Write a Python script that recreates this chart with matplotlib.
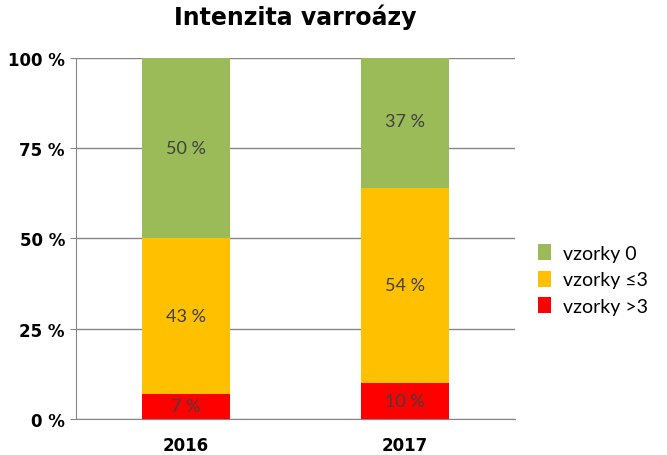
import matplotlib.pyplot as plt
import numpy as np

years = ["2016", "2017"]
red = [7, 10]
orange = [43, 54]
green = [50, 37]
series_names = ["vzorky >3", "vzorky \u22643", "vzorky 0"]
yticks = [0, 25, 50, 75, 100]

colors = ["#FF0000", "#FFC000", "#9BBB59"]

fig = plt.figure(figsize=(6.67, 4.56), dpi=100)
ax = fig.add_axes([0.114, 0.079, 0.658, 0.792])

x = np.arange(len(years))
bottom = np.zeros(len(years))
handles = []
for vals, col, name in zip([red, orange, green], colors, series_names):
    b = ax.bar(x, vals, 0.4, bottom=bottom, color=col, label=name, zorder=3)
    handles.append(b)
    for xi, v, bt in zip(x, vals, bottom):
        ax.text(xi, bt + v / 2, f"{v} %", ha="center", va="center",
                fontsize=13, color="#404040", family="Lato", zorder=4)
    bottom = bottom + np.array(vals)

ax.set_xlim(-0.5, 1.5)
ax.set_ylim(0, 100)
ax.set_yticks(yticks)
ax.set_yticklabels([f"{t} %" for t in yticks], fontsize=12, fontweight="bold")
ax.set_xticks(x)
ax.set_xticklabels(years, fontsize=12, fontweight="bold")
ax.tick_params(axis="x", length=0, pad=12)
ax.tick_params(axis="y", length=4, color="#868686", pad=4)
ax.yaxis.grid(True, color="#868686", linewidth=1, zorder=0)
for s in ["top", "right"]:
    ax.spines[s].set_visible(False)
for s in ["left", "bottom"]:
    ax.spines[s].set_color("#868686")

ax.set_title("Intenzita varro\u00e1zy", fontsize=17, fontweight="bold", pad=24)

fig.legend(handles[::-1], series_names[::-1], loc="center left",
           bbox_to_anchor=(0.78, 0.385), frameon=False,
           prop={"family": "Lato", "size": 14}, handlelength=0.7,
           handleheight=0.9, labelspacing=0.45, handletextpad=0.6)

fig.savefig("out.png", dpi=100)
